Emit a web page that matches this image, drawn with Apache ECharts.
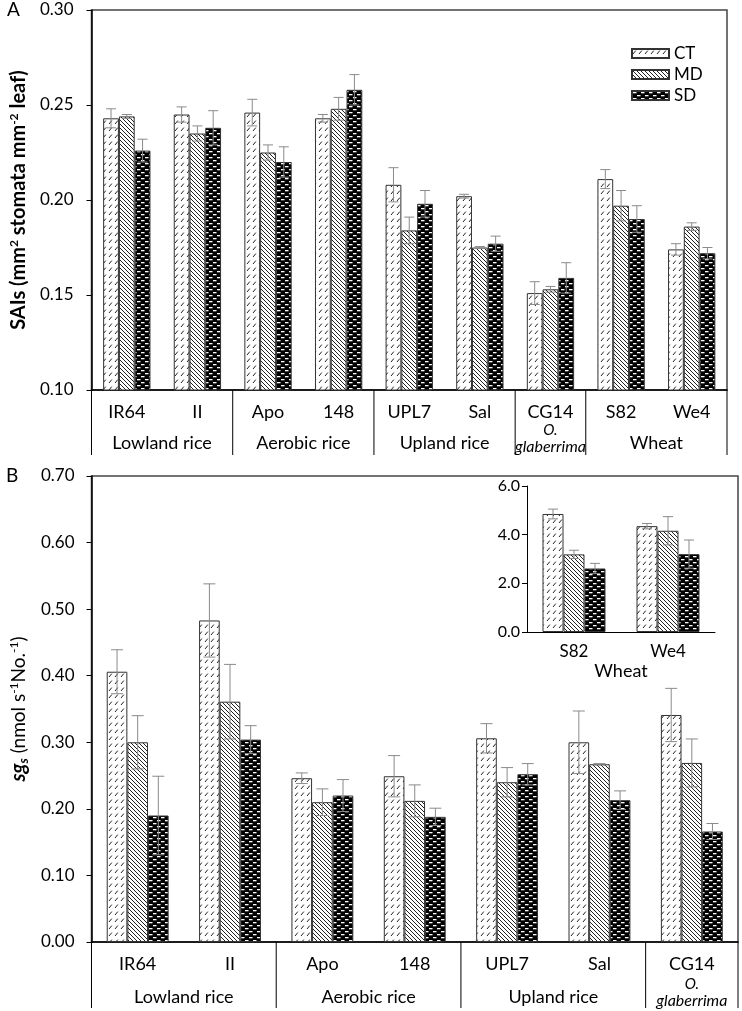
<!DOCTYPE html>
<html>
<head>
<meta charset="utf-8">
<script src="https://cdn.jsdelivr.net/npm/echarts@6/dist/echarts.min.js"></script>
<style>
html,body{margin:0;padding:0;background:#fff;}
#main{width:742px;height:1011px;}
</style>
</head>
<body>
<div id="main"></div>
<script>
// ---------- DATA ----------
const treatments = ['CT', 'MD', 'SD'];

// Panel A : SAIs
const categoriesA = ['IR64', 'II', 'Apo', '148', 'UPL7', 'Sal', 'CG14', 'S82', 'We4'];
const groupNamesA = ['Lowland rice', 'Aerobic rice', 'Upland rice', 'O. glaberrima', 'Wheat'];
const groupSizesA = [2, 2, 2, 1, 2];
const ctA    = [0.243, 0.245, 0.246, 0.243, 0.208, 0.202, 0.151, 0.211, 0.174];
const ctErrA = [0.005, 0.004, 0.007, 0.002, 0.009, 0.001, 0.006, 0.005, 0.003];
const mdA    = [0.244, 0.235, 0.225, 0.248, 0.184, 0.175, 0.153, 0.197, 0.186];
const mdErrA = [0.001, 0.004, 0.004, 0.006, 0.007, 0.0005, 0.0015, 0.008, 0.002];
const sdA    = [0.226, 0.238, 0.220, 0.258, 0.198, 0.177, 0.159, 0.190, 0.172];
const sdErrA = [0.006, 0.009, 0.008, 0.008, 0.007, 0.004, 0.008, 0.007, 0.003];
const yTicksA = {min: 0.10, max: 0.30, interval: 0.05};

// Panel B : sg_s (rice)
const categoriesB = ['IR64', 'II', 'Apo', '148', 'UPL7', 'Sal', 'CG14'];
const groupNamesB = ['Lowland rice', 'Aerobic rice', 'Upland rice', 'O. glaberrima'];
const groupSizesB = [2, 2, 2, 1];
const ctB    = [0.406, 0.483, 0.246, 0.249, 0.306, 0.300, 0.341];
const ctErrB = [0.033, 0.055, 0.008, 0.031, 0.022, 0.047, 0.040];
const mdB    = [0.300, 0.361, 0.210, 0.212, 0.240, 0.267, 0.269];
const mdErrB = [0.040, 0.056, 0.020, 0.024, 0.022, 0.001, 0.036];
const sdB    = [0.190, 0.304, 0.220, 0.188, 0.252, 0.213, 0.166];
const sdErrB = [0.059, 0.021, 0.024, 0.013, 0.016, 0.014, 0.012];
const yTicksB = {min: 0, max: 0.70, interval: 0.10};

// Inset : sg_s (wheat)
const categoriesIn = ['S82', 'We4'];
const groupNameIn = 'Wheat';
const ctIn    = [4.85, 4.35];
const ctErrIn = [0.20, 0.11];
const mdIn    = [3.19, 4.16];
const mdErrIn = [0.17, 0.58];
const sdIn    = [2.61, 3.20];
const sdErrIn = [0.21, 0.58];
const yTicksIn = {min: 0, max: 6, interval: 2};

// ---------- STYLE ----------
const FONT = 'Lato';
const GAP = 0.33;

function makePattern(type) {
  const c = document.createElement('canvas');
  const ctx = c.getContext('2d');
  if (type === 'CT') {
    c.width = 6; c.height = 7;
    ctx.fillStyle = '#fff'; ctx.fillRect(0, 0, 6, 7);
    ctx.strokeStyle = '#222'; ctx.lineWidth = 1;
    ctx.beginPath(); ctx.moveTo(1, 5); ctx.lineTo(3.8, 1.6); ctx.stroke();
  } else if (type === 'MD') {
    c.width = 4; c.height = 4;
    ctx.fillStyle = '#fff'; ctx.fillRect(0, 0, 4, 4);
    ctx.strokeStyle = '#222'; ctx.lineWidth = 1;
    ctx.beginPath();
    ctx.moveTo(-1, -1); ctx.lineTo(5, 5);
    ctx.moveTo(-1, 3); ctx.lineTo(1, 5);
    ctx.moveTo(3, -1); ctx.lineTo(5, 1);
    ctx.stroke();
  } else {
    c.width = 8; c.height = 6;
    ctx.fillStyle = '#000'; ctx.fillRect(0, 0, 8, 6);
    ctx.fillStyle = '#fff';
    ctx.fillRect(1, 1, 3.5, 1.3);
    ctx.fillRect(5, 4, 3, 1.3);
    ctx.fillRect(0, 4, 0.5, 1.3);
  }
  return {image: c, repeat: 'repeat'};
}
const patterns = {CT: makePattern('CT'), MD: makePattern('MD'), SD: makePattern('SD')};

const valsA = [ctA, mdA, sdA], errsA = [ctErrA, mdErrA, sdErrA];
const valsB = [ctB, mdB, sdB], errsB = [ctErrB, mdErrB, sdErrB];
const valsIn = [ctIn, mdIn, sdIn], errsIn = [ctErrIn, mdErrIn, sdErrIn];

function barSeries(idx, vals) {
  return treatments.map((t, s) => ({
    type: 'bar', name: t, xAxisIndex: idx, yAxisIndex: idx,
    data: vals[s], barCategoryGap: (GAP * 100) + '%', barGap: '0%',
    itemStyle: {color: patterns[t], borderColor: '#333', borderWidth: 1},
    emphasis: {disabled: true}, silent: true, z: 2
  }));
}
function errSeries(idx, vals, errs, cap) {
  const data = [];
  vals.forEach((arr, s) => arr.forEach((v, i) => data.push([i, s, v, errs[s][i]])));
  return {
    type: 'custom', xAxisIndex: idx, yAxisIndex: idx, silent: true, z: 5,
    data: data,
    renderItem: function (params, api) {
      const i = api.value(0), s = api.value(1), v = api.value(2), e = api.value(3);
      const p0 = api.coord([i, v]);
      const catW = api.coord([1, v])[0] - api.coord([0, v])[0];
      const bw = catW * (1 - GAP) / 3;
      const x = p0[0] + (s - 1) * bw;
      const yt = api.coord([i, v + e])[1];
      const yb = api.coord([i, v - e])[1];
      const st = {stroke: '#8a8a8a', lineWidth: 1};
      return {type: 'group', children: [
        {type: 'line', shape: {x1: x, y1: yt, x2: x, y2: yb}, style: st},
        {type: 'line', shape: {x1: x - cap / 2, y1: yt, x2: x + cap / 2, y2: yt}, style: st},
        {type: 'line', shape: {x1: x - cap / 2, y1: yb, x2: x + cap / 2, y2: yb}, style: st}
      ]};
    }
  };
}

const axisLineStyle = {show: true, lineStyle: {color: '#000', width: 1.5}};
const supStyle = {fontSize: 12, fontFamily: FONT, fontWeight: 'bold', verticalAlign: 'top', color: '#000'};

const chart = echarts.init(document.getElementById('main'), null, {renderer: 'canvas'});
const option = {
  animation: false,
  backgroundColor: '#fff',
  textStyle: {fontFamily: FONT},
  legend: {
    data: treatments, orient: 'vertical', left: 626, top: 40,
    itemWidth: 37, itemHeight: 9, itemGap: 4, icon: 'rect',
    textStyle: {fontSize: 17, color: '#000', fontFamily: FONT},
    selectedMode: false
  },
  grid: [
    {left: 84, top: 10, right: 15, bottom: 621, show: true, borderColor: '#444', borderWidth: 1.5},
    {left: 78, top: 476, right: 4, bottom: 69, show: true, borderColor: '#444', borderWidth: 1.5},
    {left: 527, top: 486, width: 188, height: 146}
  ],
  xAxis: [
    {type: 'category', gridIndex: 0, data: categoriesA, axisLine: axisLineStyle, axisTick: {show: false},
     axisLabel: {fontSize: 18, color: '#000', margin: 13, fontFamily: FONT}},
    {type: 'category', gridIndex: 1, data: categoriesB, axisLine: axisLineStyle, axisTick: {show: false},
     axisLabel: {fontSize: 18, color: '#000', margin: 13, fontFamily: FONT}},
    {type: 'category', gridIndex: 2, data: categoriesIn, axisLine: {show: true, lineStyle: {color: '#000', width: 1}},
     axisTick: {show: false}, axisLabel: {fontSize: 17, color: '#000', margin: 11, fontFamily: FONT},
     name: groupNameIn, nameLocation: 'middle', nameGap: 30,
     nameTextStyle: {fontSize: 18, color: '#000', fontFamily: FONT}}
  ],
  yAxis: [
    {type: 'value', gridIndex: 0, min: yTicksA.min, max: yTicksA.max, interval: yTicksA.interval,
     axisLine: axisLineStyle, axisTick: {show: true, length: 5, lineStyle: {color: '#000'}},
     splitLine: {show: false},
     axisLabel: {fontSize: 17, color: '#000', margin: 18, fontFamily: FONT, formatter: v => v.toFixed(2)},
     name: '{b|SAIs (mm}{s|2}{b| stomata mm}{s|-2}{b| leaf)}', nameLocation: 'middle', nameRotate: 90, nameGap: 60,
     nameTextStyle: {rich: {b: {fontSize: 20, fontWeight: 'bold', fontFamily: FONT, color: '#000', lineHeight: 22}, s: supStyle}}},
    {type: 'value', gridIndex: 1, min: yTicksB.min, max: yTicksB.max, interval: yTicksB.interval,
     axisLine: axisLineStyle, axisTick: {show: true, length: 5, lineStyle: {color: '#000'}},
     splitLine: {show: false},
     axisLabel: {fontSize: 17, color: '#000', margin: 17, fontFamily: FONT, formatter: v => v.toFixed(2)},
     name: '{i|sg}{sub|s}{n| (nmol s}{sup|-1}{n|No.}{sup|-1}{n|)}', nameLocation: 'middle', nameRotate: 90, nameGap: 44,
     nameTextStyle: {rich: {
       i: {fontSize: 20, fontWeight: 'bold', fontStyle: 'italic', fontFamily: FONT, color: '#000', lineHeight: 22},
       sub: {fontSize: 13, fontWeight: 'bold', fontStyle: 'italic', fontFamily: FONT, color: '#000', verticalAlign: 'bottom'},
       n: {fontSize: 19, fontFamily: FONT, color: '#000', lineHeight: 22},
       sup: {fontSize: 12, fontFamily: FONT, color: '#000', verticalAlign: 'top'}
     }}},
    {type: 'value', gridIndex: 2, min: yTicksIn.min, max: yTicksIn.max, interval: yTicksIn.interval,
     axisLine: {show: true, lineStyle: {color: '#000', width: 1}}, axisTick: {show: true, length: 5, lineStyle: {color: '#000'}},
     splitLine: {show: false},
     axisLabel: {fontSize: 16, color: '#000', margin: 7, fontFamily: FONT, formatter: v => v.toFixed(1)}}
  ],
  series: [].concat(
    barSeries(0, valsA), [errSeries(0, valsA, errsA, 10)],
    barSeries(1, valsB), [errSeries(1, valsB, errsB, 12)],
    barSeries(2, valsIn), [errSeries(2, valsIn, errsIn, 10)]
  )
};
chart.setOption(option);

// ---------- multi-level category labels & separators (positions from the axes) ----------
function catX(gridIndex, idx) {
  const ymin = gridIndex === 0 ? yTicksA.min : yTicksB.min;
  const a = chart.convertToPixel({gridIndex: gridIndex}, [0, ymin]);
  const b = chart.convertToPixel({gridIndex: gridIndex}, [1, ymin]);
  return {x: a[0] + idx * (b[0] - a[0]), y: a[1]};
}
const graphics = [];
function addGroups(gridIndex, names, sizes, row2Off, sepLen) {
  let start = 0;
  const ax0 = catX(gridIndex, -0.5);
  graphics.push({type: 'line', shape: {x1: ax0.x, y1: ax0.y, x2: ax0.x, y2: ax0.y + sepLen}, style: {stroke: '#000', lineWidth: 1}});
  names.forEach((nm, g) => {
    const n = sizes[g];
    const mid = catX(gridIndex, start + (n - 1) / 2);
    const end = catX(gridIndex, start + n - 0.5);
    graphics.push({type: 'line', shape: {x1: end.x, y1: end.y, x2: end.x, y2: end.y + sepLen}, style: {stroke: '#000', lineWidth: 1}});
    if (nm.indexOf('O. ') === 0) {
      const parts = nm.split(' ');
      graphics.push({type: 'text', x: mid.x, y: mid.y + row2Off - 13, style: {text: parts[0], font: 'italic 15px ' + FONT, fill: '#000', align: 'center', verticalAlign: 'middle'}});
      graphics.push({type: 'text', x: mid.x, y: mid.y + row2Off + 4, style: {text: parts[1], font: 'italic 16px ' + FONT, fill: '#000', align: 'center', verticalAlign: 'middle'}});
    } else {
      graphics.push({type: 'text', x: mid.x, y: mid.y + row2Off, style: {text: nm, font: '18px ' + FONT, fill: '#000', align: 'center', verticalAlign: 'middle'}});
    }
    start += n;
  });
}
addGroups(0, groupNamesA, groupSizesA, 53, 65);
addGroups(1, groupNamesB, groupSizesB, 55, 66);
graphics.push({type: 'text', x: 7, y: 10, style: {text: 'A', font: '19px ' + FONT, fill: '#000', verticalAlign: 'middle'}});
graphics.push({type: 'text', x: 6, y: 476, style: {text: 'B', font: '19px ' + FONT, fill: '#000', verticalAlign: 'middle'}});
chart.setOption({graphic: graphics});
</script>
</body>
</html>
